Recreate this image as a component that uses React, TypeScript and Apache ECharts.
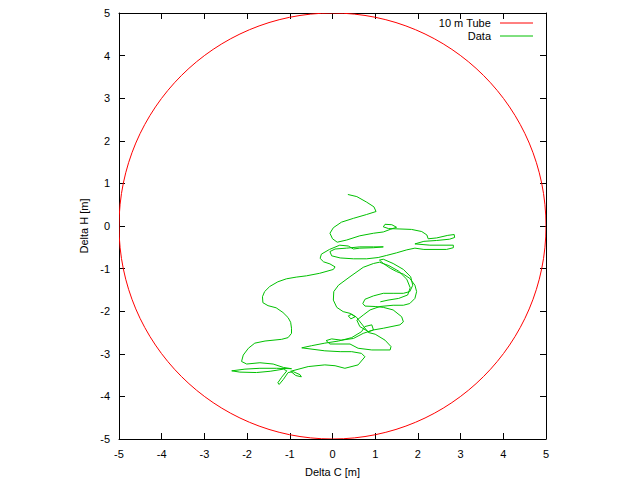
import React, { useEffect, useRef } from "react";
import * as echarts from "echarts";

// Tube: centre (0,0), radius 5 m
const tubeCenter = [0, 0];
const tubeRadius = 5;

// Data trajectory (Delta C, Delta H) in metres
const deltaC = [
  0.36, 0.57, 0.8, 0.97, 1.02, 0.8, 0.49, 0.21, 0.02, -0.06, 0.0, 0.11,
  0.33, 0.64, 0.96, 1.19, 1.35, 1.5, 1.39, 1.23, 1.19, 1.31, 1.58, 1.85,
  2.09, 2.21, 2.24, 2.44, 2.7, 2.85, 2.86, 2.74, 2.44, 2.14, 1.93, 2.28,
  2.83, 2.83, 2.67, 2.14, 1.93, 1.74, 1.5, 1.27, 1.07, 0.8, 0.49, 0.18,
  -0.02, -0.06, 0.06, 0.33, 0.64, 0.96, 1.19, 0.96, 0.64, 0.49, 0.37, 0.17,
  -0.07, -0.26, -0.29, -0.21, -0.06, 0.06, 0.02, -0.3, -0.61, -0.85, -1.08, -1.28,
  -1.47, -1.59, -1.64, -1.63, -1.51, -1.32, -1.16, -1.04, -0.98, -0.96, -0.96, -1.04,
  -1.19, -1.58, -1.82, -1.97, -2.09, -2.13, -2.01, -1.7, -1.39, -1.15, -0.96, -1.31,
  -1.7, -2.05, -2.36, -2.17, -1.78, -1.46, -1.15, -1.07, -1.19, -1.28, -1.25, -1.15,
  -1.04, -0.92, -0.76, -0.73, -0.86, -0.98, -0.57, -0.18, 0.06, 0.29, 0.6, 0.76,
  0.68, 0.45, 0.18, -0.18, -0.72, -0.49, -0.18, 0.14, 0.45, 0.68, 0.76, 0.92,
  0.96, 0.84, 0.64, 0.57, 0.72, 0.88, 1.11, 1.42, 1.66, 1.81, 1.93, 1.97,
  1.93, 1.81, 1.66, 1.5, 1.35, 1.19, 1.1, 1.19, 1.42, 1.66, 1.83, 1.88,
  1.81, 1.66, 1.42, 1.19, 0.96, 0.76, 0.71, 0.76, 1.0, 1.19, 1.42, 1.62,
  1.66, 1.58, 1.19, 0.96, 0.72, 0.49, 0.21, -0.02, -0.15, -0.06, 0.41, 0.6,
  0.92, 1.35, 1.37, 1.23, 1.0, 0.84, 0.56, 0.45, 0.37, 0.43, 0.53, 0.41,
  0.25, 0.1, 0.02, 0.03, 0.14, 0.41, 0.72, 0.96, 1.1, 1.32, 1.55, 1.74,
  1.82, 1.76, 1.55, 1.3, 1.12,
];
const deltaH = [
  0.74, 0.69, 0.56, 0.45, 0.34, 0.27, 0.18, 0.09, -0.04, -0.17, -0.3, -0.38,
  -0.33, -0.23, -0.17, -0.14, -0.08, -0.03, 0.03, 0.04, -0.02, -0.06, -0.07, -0.08,
  -0.13, -0.21, -0.3, -0.28, -0.22, -0.2, -0.27, -0.31, -0.34, -0.36, -0.42, -0.45,
  -0.45, -0.51, -0.55, -0.55, -0.52, -0.56, -0.63, -0.69, -0.74, -0.77, -0.77, -0.75,
  -0.7, -0.6, -0.54, -0.52, -0.49, -0.49, -0.49, -0.51, -0.52, -0.54, -0.47, -0.45,
  -0.55, -0.66, -0.76, -0.84, -0.89, -0.96, -1.02, -1.11, -1.17, -1.2, -1.24, -1.31,
  -1.42, -1.54, -1.66, -1.8, -1.87, -1.92, -2.03, -2.15, -2.26, -2.4, -2.52, -2.62,
  -2.66, -2.7, -2.75, -2.87, -3.03, -3.18, -3.24, -3.21, -3.24, -3.32, -3.35, -3.34,
  -3.34, -3.36, -3.4, -3.43, -3.44, -3.41, -3.36, -3.4, -3.55, -3.68, -3.72, -3.6,
  -3.44, -3.42, -3.49, -3.54, -3.51, -3.41, -3.3, -3.26, -3.28, -3.34, -3.26, -3.07,
  -2.99, -2.95, -2.95, -2.93, -2.86, -2.81, -2.75, -2.7, -2.62, -2.48, -2.36, -2.32,
  -2.44, -2.48, -2.36, -2.21, -2.09, -1.97, -1.89, -1.86, -1.86, -1.82, -1.7, -1.54,
  -1.39, -1.23, -1.13, -1.07, -0.99, -0.88, -0.8, -0.78, -0.88, -1.02, -1.19, -1.39,
  -1.54, -1.58, -1.58, -1.58, -1.64, -1.72, -1.82, -1.88, -1.89, -1.91, -1.97, -2.13,
  -2.25, -2.32, -2.4, -2.44, -2.52, -2.64, -2.68, -2.65, -2.69, -2.77, -2.77, -2.87,
  -2.91, -2.91, -2.83, -2.68, -2.54, -2.5, -2.14, -2.07, -2.11, -2.18, -2.13, -2.05,
  -2.01, -1.91, -1.74, -1.54, -1.39, -1.19, -0.97, -0.88, -0.85, -0.93, -1.06, -1.25,
  -1.45, -1.62, -1.7, -1.74, -1.78,
];

const xTicks = [-5, -4, -3, -2, -1, 0, 1, 2, 3, 4, 5];
const legendNames = ["10 m Tube", "Data"];

const FONT = "Liberation Sans";

export default function App() {
  const ref = useRef<HTMLDivElement>(null);
  useEffect(() => {
    if (!ref.current) return;
    const chart = echarts.init(ref.current, undefined, { renderer: "svg" });
    const dataPairs = deltaC.map((c, i) => [c, deltaH[i]]);
    const axisCommon = {
      type: "value" as const,
      min: xTicks[0],
      max: xTicks[xTicks.length - 1],
      interval: 1,
      splitLine: { show: false },
      axisLine: { show: true, onZero: false, lineStyle: { color: "#000", width: 1 } },
      axisTick: { show: true, inside: true, length: 6, lineStyle: { color: "#000" } },
    };
    chart.setOption({
      animation: false,
      backgroundColor: "#fff",
      textStyle: { fontFamily: FONT },
      grid: { left: 119, right: 94, top: 13, bottom: 41, outerBoundsMode: "none", containLabel: false },
      xAxis: [
        {
          ...axisCommon,
          position: "bottom",
          name: "Delta C [m]",
          nameLocation: "middle",
          nameGap: 27,
          nameTextStyle: { color: "#000", fontSize: 11, fontFamily: FONT },
          axisLabel: { color: "#000", fontSize: 11, margin: 9, fontFamily: FONT },
        },
        {
          ...axisCommon,
          position: "top",
          axisLabel: { show: false },
        },
      ],
      yAxis: [
        {
          ...axisCommon,
          position: "left",
          name: "Delta H [m]",
          nameLocation: "middle",
          nameGap: 30,
          nameRotate: 90,
          nameTextStyle: { color: "#000", fontSize: 11, fontFamily: FONT },
          axisLabel: { color: "#000", fontSize: 11, margin: 9, fontFamily: FONT },
        },
        {
          ...axisCommon,
          position: "right",
          axisLabel: { show: false },
        },
      ],
      series: [
        {
          name: legendNames[0],
          type: "custom",
          xAxisIndex: 0,
          yAxisIndex: 0,
          clip: true,
          data: [[tubeCenter[0], tubeCenter[1], tubeRadius]],
          renderItem: (params: any, api: any) => {
            const c = api.coord([api.value(0), api.value(1)]);
            const rx = api.size([api.value(2), 0])[0];
            const ry = api.size([0, api.value(2)])[1];
            return {
              type: "ellipse",
              shape: { cx: c[0], cy: c[1], rx, ry },
              style: { fill: "none", stroke: "#ff0000", lineWidth: 1 },
            };
          },
        },
        {
          name: legendNames[1],
          type: "line",
          xAxisIndex: 0,
          yAxisIndex: 0,
          data: dataPairs,
          showSymbol: false,
          symbol: "none",
          lineStyle: { color: "#00c000", width: 1 },
          smooth: false,
        },
      ],
      graphic: [
        {
          type: "text",
          right: 149,
          top: 17,
          style: { text: legendNames[0], fill: "#000", font: `11px "${FONT}"` },
        },
        {
          type: "text",
          right: 149,
          top: 30,
          style: { text: legendNames[1], fill: "#000", font: `11px "${FONT}"` },
        },
        {
          type: "line",
          shape: { x1: 500, y1: 23, x2: 533, y2: 23 },
          style: { stroke: "#ff0000", lineWidth: 1 },
        },
        {
          type: "line",
          shape: { x1: 500, y1: 36, x2: 533, y2: 36 },
          style: { stroke: "#00c000", lineWidth: 1 },
        },
      ],
    });
    return () => chart.dispose();
  }, []);
  return <div ref={ref} style={{ width: 640, height: 480, position: "absolute", left: 0, top: 0 }} />;
}
